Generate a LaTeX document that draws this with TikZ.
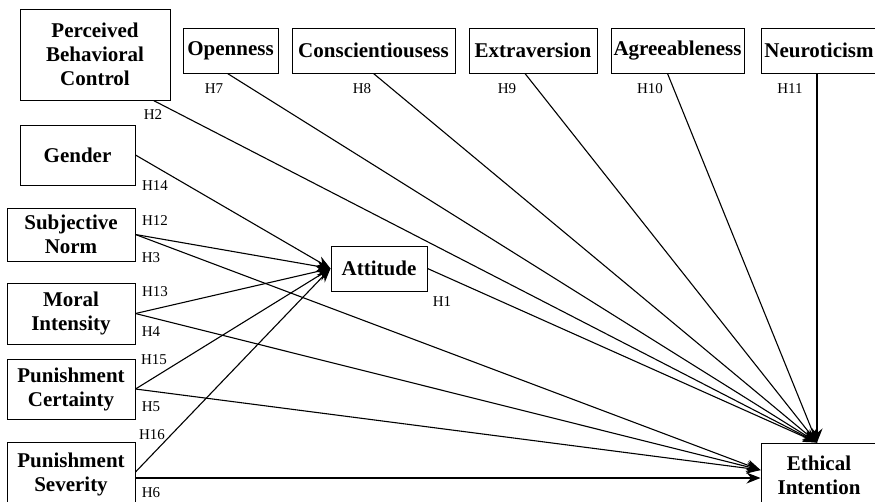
\documentclass[tikz,border=0pt]{standalone}
\usepackage{fontspec}
\setmainfont{Liberation Serif}
\usetikzlibrary{arrows.meta,positioning,calc}

\begin{document}
\begin{tikzpicture}[x=1pt, y=-1pt, font=\fontsize{21}{24}\selectfont\bfseries,
  construct/.style={draw, line width=1pt, align=center, inner sep=1pt},
  hyp/.style={font=\fontsize{15}{17}\selectfont},
  link/.style={-{Stealth[length=14pt,width=11pt]}, line width=1.1pt}]
  \useasboundingbox (0,0) rectangle (875,501);

  % constructs
  \node[construct, minimum width=150pt, minimum height=91pt] (pbc) at (95,54.5) {Perceived\\Behavioral\\Control};
  \node[construct, minimum width=95pt, minimum height=45pt] (open) at (230.5,50.5) {Openness};
  \node[construct, minimum width=163pt, minimum height=45pt] (consc) at (373.5,50.5) {Conscientiousess};
  \node[construct, minimum width=128pt, minimum height=45pt] (extra) at (533,50.5) {Extraversion};
  \node[construct, minimum width=133pt, minimum height=45pt] (agree) at (677.5,50.5) {Agreeableness};
  \node[construct, minimum width=116pt, minimum height=45pt] (neuro) at (819,50.5) {Neuroticism};
  \node[construct, minimum width=115pt, minimum height=60pt] (gender) at (77.5,155) {Gender};
  \node[construct, minimum width=128pt, minimum height=53pt] (sn) at (71,234.5) {Subjective\\Norm};
  \node[construct, minimum width=128pt, minimum height=61pt] (mi) at (71,313.5) {Moral\\Intensity};
  \node[construct, minimum width=128pt, minimum height=60pt] (pc) at (71,389) {Punishment\\Certainty};
  \node[construct, minimum width=128pt, minimum height=64pt] (ps) at (71,474) {Punishment\\Severity};
  \node[construct, minimum width=96pt, minimum height=45pt] (att) at (379,268.5) {Attitude};
  \node[construct, minimum width=116pt, minimum height=64pt] (ei) at (819,475) {Ethical\\Intention};

  % paths to attitude
  \draw[link] (gender.east) -- (att.west);
  \draw[link] (sn.east) -- (att.west);
  \draw[link] (mi.east) -- (att.west);
  \draw[link] (pc.east) -- (att.west);
  \draw[link] ([yshift=2pt]ps.east) -- (att.west);

  % paths to ethical intention
  \draw[link] ([xshift=-17pt]pbc.south east) -- ([xshift=-2pt]ei.north);
  \draw[link] ([xshift=-3pt]open.south) -- ([xshift=-2pt]ei.north);
  \draw[link] (consc.south) -- ([xshift=-2pt]ei.north);
  \draw[link] ([xshift=-8pt]extra.south) -- ([xshift=-2pt]ei.north);
  \draw[link] ([xshift=-10pt]agree.south) -- ([xshift=-2pt]ei.north);
  \draw[link] ([xshift=-2pt]neuro.south) -- ([xshift=-2pt]ei.north);
  \draw[link] (att.east) -- ([xshift=-2pt]ei.north);
  \draw[link] (sn.east) -- ([yshift=5pt]ei.west);
  \draw[link] (mi.east) -- ([yshift=5pt]ei.west);
  \draw[link] (pc.east) -- ([yshift=5pt]ei.west);
  \draw[link] ([yshift=-4pt]ps.east) -- ([yshift=-4pt]ps.east -| ei.west);

  % hypothesis labels
  \node[hyp] (h1) at (442,302) {H1};
  \node[hyp] (h2) at (153,115) {H2};
  \node[hyp] (h3) at (151,258) {H3};
  \node[hyp] (h4) at (151,332) {H4};
  \node[hyp] (h5) at (151,407) {H5};
  \node[hyp] (h6) at (151,493) {H6};
  \node[hyp] (h7) at (214,89) {H7};
  \node[hyp] (h8) at (362,89) {H8};
  \node[hyp] (h9) at (507,89) {H9};
  \node[hyp] (h10) at (650,89) {H10};
  \node[hyp] (h11) at (790,89) {H11};
  \node[hyp] (h12) at (155,221) {H12};
  \node[hyp] (h13) at (155,292) {H13};
  \node[hyp] (h14) at (155,186) {H14};
  \node[hyp] (h15) at (154,360) {H15};
  \node[hyp] (h16) at (152,435) {H16};
\end{tikzpicture}
\end{document}
